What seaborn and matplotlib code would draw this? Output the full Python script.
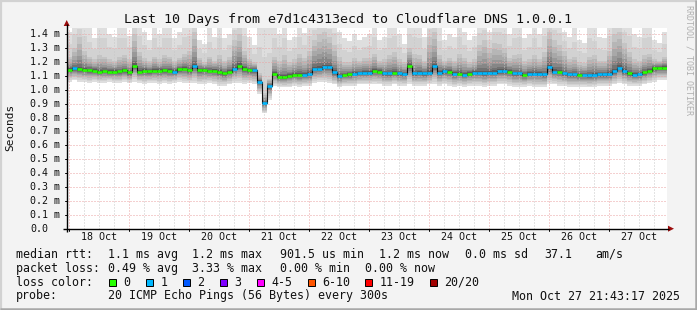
import numpy as np
import pandas as pd
import matplotlib
matplotlib.use("Agg")
import matplotlib.pyplot as plt
import seaborn as sns
from matplotlib.patches import Rectangle, Polygon

# ------------------------------------------------------------------ data
title = "Last 10 Days from e7d1c4313ecd to Cloudflare DNS 1.0.0.1"
day_labels = ["18 Oct", "19 Oct", "20 Oct", "21 Oct", "22 Oct",
              "23 Oct", "24 Oct", "25 Oct", "26 Oct", "27 Oct"]
y_values = [0.0, 0.1, 0.2, 0.3, 0.4, 0.5, 0.6, 0.7, 0.8, 0.9, 1.0, 1.1, 1.2, 1.3, 1.4]
y_tick_labels = ["0.0", "0.1 m", "0.2 m", "0.3 m", "0.4 m", "0.5 m", "0.6 m", "0.7 m",
                 "0.8 m", "0.9 m", "1.0 m", "1.1 m", "1.2 m", "1.3 m", "1.4 m"]
start_hour = -1.0      # hours relative to 18 Oct 00:00
step_hours = 2.0

median_ms = [
    1.145, 1.155, 1.148, 1.143, 1.143, 1.138, 1.131, 1.136, 1.131, 1.131,
    1.133, 1.141, 1.126, 1.174, 1.131, 1.138, 1.133, 1.138, 1.138, 1.141,
    1.138, 1.131, 1.148, 1.153, 1.141, 1.170, 1.143, 1.145, 1.136, 1.138,
    1.129, 1.119, 1.131, 1.153, 1.174, 1.150, 1.143, 1.143, 1.059, 0.905,
    1.028, 1.115, 1.095, 1.091, 1.102, 1.107, 1.107, 1.107, 1.112, 1.153,
    1.153, 1.162, 1.165, 1.126, 1.098, 1.107, 1.112, 1.117, 1.122, 1.124,
    1.124, 1.138, 1.131, 1.119, 1.119, 1.124, 1.119, 1.115, 1.175, 1.119,
    1.124, 1.119, 1.124, 1.170, 1.124, 1.136, 1.131, 1.115, 1.117, 1.110,
    1.117, 1.122, 1.124, 1.119, 1.122, 1.124, 1.133, 1.136, 1.131, 1.119,
    1.119, 1.107, 1.115, 1.117, 1.117, 1.112, 1.165, 1.131, 1.131, 1.119,
    1.112, 1.112, 1.107, 1.107, 1.105, 1.107, 1.112, 1.112, 1.112, 1.135,
    1.160, 1.136, 1.119, 1.107, 1.112, 1.126, 1.138, 1.155, 1.160, 1.160]

loss_count = [
    0, 1, 0, 0, 0, 0, 0, 0, 0, 0,
    0, 0, 0, 0, 0, 0, 0, 0, 0, 0,
    0, 1, 0, 0, 0, 1, 0, 0, 0, 0,
    0, 0, 0, 1, 0, 0, 0, 1, 1, 1,
    1, 0, 0, 0, 0, 0, 0, 1, 1, 1,
    1, 1, 1, 1, 1, 0, 0, 1, 1, 1,
    1, 0, 0, 1, 1, 0, 1, 1, 0, 1,
    1, 1, 1, 1, 1, 1, 0, 1, 0, 1,
    0, 1, 1, 1, 1, 1, 1, 1, 0, 1,
    1, 0, 1, 1, 1, 1, 1, 1, 0, 1,
    1, 1, 0, 1, 1, 1, 1, 1, 1, 1,
    1, 1, 0, 1, 1, 0, 0, 0, 0, 0]

ping_min = [
    1.06, 1.07, 1.06, 1.06, 1.05, 1.06, 1.05, 1.05, 1.06, 1.05,
    1.05, 1.06, 1.05, 1.06, 1.05, 1.04, 1.05, 1.05, 1.04, 1.05,
    1.04, 1.05, 1.06, 1.05, 1.05, 1.05, 1.04, 1.04, 1.05, 1.04,
    1.03, 1.03, 1.04, 1.05, 1.05, 1.04, 1.05, 1.04, 0.97, 0.83,
    0.93, 1.03, 1.02, 1.02, 1.02, 1.03, 1.02, 1.03, 1.03, 1.05,
    1.06, 1.06, 1.05, 1.04, 1.02, 1.03, 1.03, 1.03, 1.04, 1.04,
    1.04, 1.04, 1.04, 1.03, 1.03, 1.04, 1.03, 1.03, 1.04, 1.03,
    1.03, 1.03, 1.04, 1.04, 1.03, 1.04, 1.03, 1.02, 1.03, 1.02,
    1.03, 1.03, 1.03, 1.02, 1.03, 1.03, 1.04, 1.04, 1.03, 1.02,
    1.02, 1.02, 1.03, 1.02, 1.02, 1.02, 1.04, 1.04, 1.03, 1.03,
    1.02, 1.02, 1.02, 1.02, 1.02, 1.02, 1.03, 1.03, 1.03, 1.04,
    1.05, 1.04, 1.03, 1.03, 1.03, 1.04, 1.05, 1.06, 1.07, 1.07]

ping_p80 = [
    1.24, 1.30, 1.38, 1.28, 1.24, 1.22, 1.25, 1.24, 1.22, 1.21,
    1.24, 1.25, 1.22, 1.40, 1.27, 1.23, 1.21, 1.24, 1.22, 1.25,
    1.24, 1.21, 1.23, 1.26, 1.28, 1.42, 1.23, 1.20, 1.24, 1.21,
    1.25, 1.21, 1.24, 1.36, 1.40, 1.28, 1.22, 1.20, 1.12, 0.98,
    1.08, 1.24, 1.21, 1.25, 1.20, 1.22, 1.26, 1.23, 1.28, 1.36,
    1.40, 1.42, 1.38, 1.32, 1.24, 1.20, 1.20, 1.23, 1.21, 1.23,
    1.23, 1.26, 1.21, 1.22, 1.25, 1.27, 1.22, 1.20, 1.30, 1.26,
    1.25, 1.21, 1.38, 1.42, 1.25, 1.21, 1.23, 1.21, 1.26, 1.23,
    1.20, 1.22, 1.32, 1.36, 1.30, 1.34, 1.33, 1.30, 1.23, 1.25,
    1.26, 1.21, 1.22, 1.25, 1.22, 1.27, 1.42, 1.36, 1.32, 1.28,
    1.22, 1.24, 1.20, 1.19, 1.24, 1.25, 1.21, 1.21, 1.28, 1.40,
    1.42, 1.34, 1.27, 1.22, 1.21, 1.25, 1.26, 1.22, 1.21, 1.24]

ping_max = [
    1.42, 1.50, 1.50, 1.50, 1.45, 1.37, 1.50, 1.50, 1.40, 1.38,
    1.50, 1.50, 1.39, 1.50, 1.50, 1.42, 1.36, 1.50, 1.40, 1.50,
    1.50, 1.37, 1.42, 1.50, 1.50, 1.50, 1.36, 1.33, 1.45, 1.38,
    1.50, 1.37, 1.40, 1.50, 1.50, 1.50, 1.38, 1.32, 1.50, 1.50,
    1.45, 1.50, 1.40, 1.50, 1.36, 1.38, 1.50, 1.41, 1.50, 1.50,
    1.50, 1.50, 1.50, 1.50, 1.42, 1.37, 1.35, 1.40, 1.36, 1.38,
    1.40, 1.50, 1.36, 1.38, 1.50, 1.50, 1.40, 1.33, 1.50, 1.50,
    1.50, 1.38, 1.50, 1.50, 1.45, 1.36, 1.40, 1.38, 1.50, 1.42,
    1.36, 1.39, 1.50, 1.50, 1.42, 1.50, 1.50, 1.50, 1.40, 1.50,
    1.50, 1.37, 1.40, 1.50, 1.40, 1.50, 1.50, 1.50, 1.50, 1.42,
    1.38, 1.45, 1.36, 1.34, 1.50, 1.45, 1.38, 1.37, 1.50, 1.50,
    1.50, 1.50, 1.50, 1.40, 1.38, 1.50, 1.50, 1.36, 1.34, 1.42]

loss_labels = ["0", "1", "2", "3", "4-5", "6-10", "11-19", "20/20"]
loss_colors = ["#26ff00", "#00b8ff", "#0059ff", "#7e00ff",
               "#ff00ff", "#ff5500", "#ff0000", "#a10000"]

stats_rtt = ["median rtt:", "1.1 ms avg", "1.2 ms max", "901.5 us min",
             "1.2 ms now", "0.0 ms sd", "37.1", "am/s"]
stats_loss = ["packet loss:", "0.49 % avg", "3.33 % max", "0.00 % min", "0.00 % now"]
probe_text = ["probe:", "20 ICMP Echo Pings (56 Bytes) every 300s"]
timestamp = "Mon Oct 27 21:43:17 2025"
watermark = "RRDTOOL / TOBI OETIKER"

# ------------------------------------------------------------------ figure
sns.set_theme(style="white")
plt.rcParams['font.family'] = ['DejaVu Sans Mono', 'DejaVu Sans']

W, H = 697, 310
BG = "#f3f3f3"
fig = plt.figure(figsize=(W / 100, H / 100), dpi=100, facecolor=BG)

X0, X1 = 66.7, 666.7     # plot area in pixels
Y0, Y1 = 228.7, 27.7
ax = fig.add_axes([X0 / W, (H - Y0) / H, (X1 - X0) / W, (Y0 - Y1) / H])
ax.set_facecolor("white")

n = len(median_ms)
edges = start_hour + step_hours * np.arange(n + 1)
med = np.array(median_ms)
lo0 = np.array(ping_min)
hi0 = np.array(ping_max)
p80 = np.minimum(np.array(ping_p80), hi0)

def ext(a):
    return np.append(a, a[-1])

# smoke: nested bands, lightest = full range, darkest = close to the median
greys = [222, 210, 196, 182, 168, 152, 134, 114, 92, 70]
for k in range(10):
    if k == 0:
        up = hi0
    elif k == 1:
        up = (hi0 + p80) / 2
    else:
        up = med + 0.006 + (p80 - med - 0.006) * ((9 - k) / 7) ** 1.6
    dn = med - 0.006 - (med - 0.006 - lo0) * ((9 - k) / 9) ** 1.3
    g = greys[k]
    ax.fill_between(edges, ext(dn), ext(up), step="post",
                    color="#%02x%02x%02x" % (g, g, g), lw=0, zorder=1)

# grid on top of smoke
grid_red = "#eaa2a2"
grid_grey = "#c8c8c8"
for yv in y_values[1:]:
    ax.axhline(yv, color=grid_red, lw=0.72, ls=(0, (1, 2)), zorder=3)
for hh in range(0, 240, 6):
    if hh % 24 == 0:
        ax.axvline(hh, color=grid_red, lw=0.72, ls=(0, (1, 2)), zorder=3)
    else:
        ax.axvline(hh, color=grid_grey, lw=0.72, ls=(0, (1, 2)), zorder=3)

# median: black step line + loss coloured segments
df = pd.DataFrame({"t": edges, "median": ext(med)})
sns.lineplot(data=df, x="t", y="median", drawstyle="steps-post", color="#111111",
             lw=0.8, estimator=None, ax=ax, zorder=4)
seg_cols = [loss_colors[c] for c in loss_count]
ax.hlines(med, edges[:-1], edges[1:], colors=seg_cols, lw=1.9, zorder=5)

ax.set_xlim(start_hour, start_hour + step_hours * n)
ax.set_ylim(0, 1.4475)
ax.set_xlabel("")
ax.set_ylabel("")
ax.set_xticks([])
ax.set_yticks([])
for s in ax.spines.values():
    s.set_visible(False)

# tick labels
xt = ax.get_xaxis_transform()
for i, lab in enumerate(day_labels):
    ax.text(12 + 24 * i, -(237.0 - Y0) / (Y0 - Y1), lab, transform=xt,
            ha="center", va="center", fontsize=7.2, color="#111111")

# ------------------------------------------------------------------ overlay (pixel coords)
ov = fig.add_axes([0, 0, 1, 1], zorder=10)
ov.set_xlim(0, W)
ov.set_ylim(H, 0)
ov.axis("off")
ov.patch.set_alpha(0)

def py(v):
    return Y0 - (Y0 - Y1) * v / 1.4475

for v, lab in zip(y_values, y_tick_labels):
    ov.text(30, py(v), lab, ha="left", va="center", fontsize=7.2, color="#111111")
    ov.plot([X0 - 2, X0], [py(v), py(v)], color="black", lw=0.7)

# axes lines and arrows
arrow_c = "#9c0c0c"
ov.plot([X0, X0], [Y0 + 3, 24], color="black", lw=1.0, solid_capstyle="butt")
ov.plot([X0 - 4, 669], [Y0, Y0], color="black", lw=1.0, solid_capstyle="butt")
ov.add_patch(Polygon([[668, Y0 - 3], [668, Y0 + 3], [674, Y0]], closed=True,
                     color=arrow_c, lw=0))
ov.add_patch(Polygon([[X0 - 3, 26], [X0 + 3, 26], [X0, 20]], closed=True,
                     color=arrow_c, lw=0))
for hh in range(0, 240, 24):
    xp = X0 + (hh - start_hour) * (X1 - X0) / (step_hours * n)
    ov.plot([xp, xp], [Y0, Y0 + 2], color="black", lw=0.7)

# title, y label, watermark
ov.text(W / 2, 19, title, ha="center", va="center", fontsize=9.6, color="#111111")
ov.text(10, 127, "Seconds", ha="center", va="center", rotation=90, fontsize=8,
        color="#111111")
ov.text(688.5, 60, watermark, ha="center", va="center", rotation=-90, fontsize=6,
        color="#b0b0b0")

# legend / statistics
FS = 8.4
tc = "#111111"
for xp, s in zip([16, 108, 192, 280, 379, 465, 544, 595], stats_rtt):
    ov.text(xp, 254.3, s, ha="left", va="center", fontsize=FS, color=tc)
for xp, s in zip([16, 108, 192, 280, 365], stats_loss):
    ov.text(xp, 268.3, s, ha="left", va="center", fontsize=FS, color=tc)
ov.text(16, 282.3, "loss color:", ha="left", va="center", fontsize=FS, color=tc)
box_x = [108.7, 145.7, 182.7, 219.7, 257, 307.6, 365, 430]
for bx, lab, col in zip(box_x, loss_labels, loss_colors):
    ov.add_patch(Rectangle((bx, 278.6), 7.4, 7.4, facecolor=col, edgecolor="black",
                           lw=0.7))
    ov.text(bx + 14.5, 282.3, lab, ha="left", va="center", fontsize=FS, color=tc)
ov.text(16, 296.0, probe_text[0], ha="left", va="center", fontsize=FS, color=tc)
ov.text(108, 296.0, probe_text[1], ha="left", va="center", fontsize=FS, color=tc)
ov.text(680, 296.0, timestamp, ha="right", va="center", fontsize=FS, color=tc)

# 3d border
ov.plot([0, W], [1, 1], color="#d2d2d2", lw=1.6, solid_capstyle="butt")
ov.plot([1, 1], [0, H], color="#d2d2d2", lw=1.6, solid_capstyle="butt")
ov.plot([0, W], [H - 1.2, H - 1.2], color="#a8a8a8", lw=1.8, solid_capstyle="butt")
ov.plot([W - 1.2, W - 1.2], [0, H], color="#a8a8a8", lw=1.8, solid_capstyle="butt")

fig.savefig("out.png", dpi=100, facecolor=BG)
